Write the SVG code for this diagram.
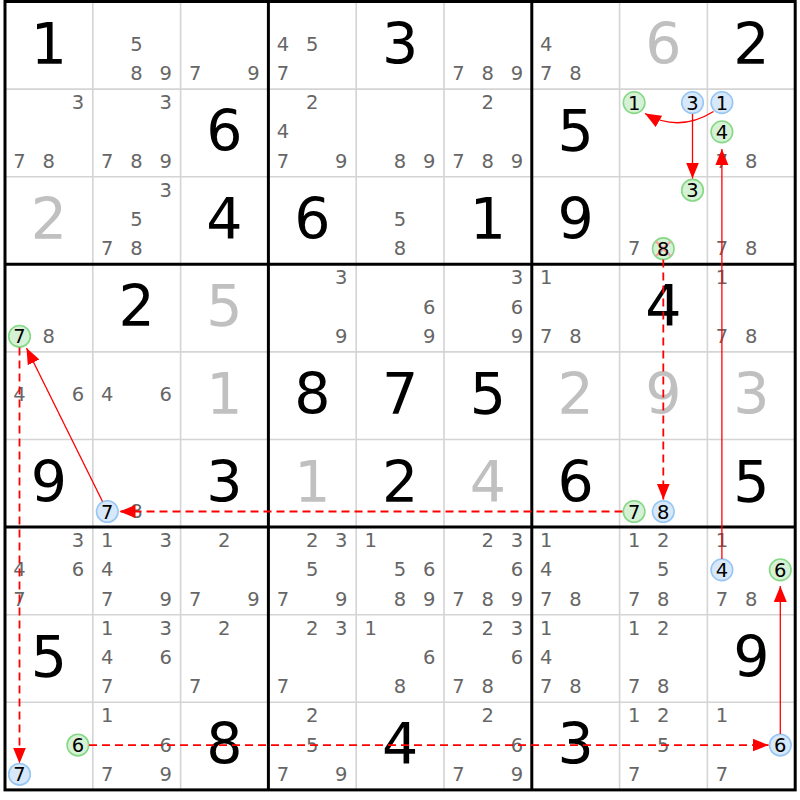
<svg xmlns="http://www.w3.org/2000/svg" width="800" height="800" viewBox="0 0 800 800">
<style>
text{font-family:"DejaVu Sans","Verdana",sans-serif;text-anchor:middle}
.g{font-size:57px;fill:#000}
.s{font-size:57px;fill:#c0c0c0}
.c{font-size:19.5px;fill:#666}
.ct{font-size:19.5px;fill:#000}
.cg{fill:#d6f2d6;stroke:#86d886;stroke-width:1.6}
.cb{fill:#d6e8fa;stroke:#98c6f2;stroke-width:1.6}
.thin{stroke:#d4d4d4;stroke-width:1.6}
.thick{stroke:#000;stroke-width:3}
.sol{stroke:#ff0000;stroke-width:1.3;fill:none}
.dsh{stroke:#ff0000;stroke-width:1.8;fill:none;stroke-dasharray:8 5}
</style>
<defs>
<marker id="ah" markerUnits="userSpaceOnUse" markerWidth="17" markerHeight="14" refX="16" refY="6.5" orient="auto">
<path d="M0,0 L16,6.5 L0,13 z" fill="#ff0000"/>
</marker>
</defs>
<rect x="0" y="0" width="800" height="800" fill="#fff"/>
<g id="grid">
<g class="thin">
<line x1="92.8" y1="1.5" x2="92.8" y2="789.9"/><line x1="180.6" y1="1.5" x2="180.6" y2="789.9"/>
<line x1="356.2" y1="1.5" x2="356.2" y2="789.9"/><line x1="444" y1="1.5" x2="444" y2="789.9"/>
<line x1="619.6" y1="1.5" x2="619.6" y2="789.9"/><line x1="707.4" y1="1.5" x2="707.4" y2="789.9"/>
<line x1="5" y1="89.1" x2="795.2" y2="89.1"/><line x1="5" y1="176.7" x2="795.2" y2="176.7"/>
<line x1="5" y1="351.9" x2="795.2" y2="351.9"/><line x1="5" y1="439.5" x2="795.2" y2="439.5"/>
<line x1="5" y1="614.7" x2="795.2" y2="614.7"/><line x1="5" y1="702.3" x2="795.2" y2="702.3"/>
</g>
<g class="thick">
<line x1="268.4" y1="1.5" x2="268.4" y2="789.9"/><line x1="531.8" y1="1.5" x2="531.8" y2="789.9"/>
<line x1="5" y1="264.3" x2="795.2" y2="264.3"/><line x1="5" y1="527.1" x2="795.2" y2="527.1"/>
<rect x="5" y="1.5" width="790.2" height="788.4" fill="none"/>
</g>
</g>
<g id="digits">
<text class="g" x="48.9" y="63.5">1</text>
<text class="g" x="400.1" y="63.5">3</text>
<text class="s" x="663.5" y="63.5">6</text>
<text class="g" x="751.3" y="63.5">2</text>
<text class="g" x="224.5" y="151.1">6</text>
<text class="g" x="575.7" y="151.1">5</text>
<text class="s" x="48.9" y="238.7">2</text>
<text class="g" x="224.5" y="238.7">4</text>
<text class="g" x="312.3" y="238.7">6</text>
<text class="g" x="487.9" y="238.7">1</text>
<text class="g" x="575.7" y="238.7">9</text>
<text class="g" x="136.7" y="326.3">2</text>
<text class="s" x="224.5" y="326.3">5</text>
<text class="g" x="663.5" y="326.3">4</text>
<text class="s" x="224.5" y="413.9">1</text>
<text class="g" x="312.3" y="413.9">8</text>
<text class="g" x="400.1" y="413.9">7</text>
<text class="g" x="487.9" y="413.9">5</text>
<text class="s" x="575.7" y="413.9">2</text>
<text class="s" x="663.5" y="413.9">9</text>
<text class="s" x="751.3" y="413.9">3</text>
<text class="g" x="48.9" y="501.5">9</text>
<text class="g" x="224.5" y="501.5">3</text>
<text class="s" x="312.3" y="501.5">1</text>
<text class="g" x="400.1" y="501.5">2</text>
<text class="s" x="487.9" y="501.5">4</text>
<text class="g" x="575.7" y="501.5">6</text>
<text class="g" x="751.3" y="501.5">5</text>
<text class="g" x="48.9" y="676.7">5</text>
<text class="g" x="751.3" y="676.7">9</text>
<text class="g" x="224.5" y="764.3">8</text>
<text class="g" x="400.1" y="764.3">4</text>
<text class="g" x="575.7" y="764.3">3</text>
</g>
<g id="candidates" class="c">
<g id="r0c1"><text x="136.5" y="50.75">5</text><text x="136.5" y="80">8</text><text x="165.7" y="80">9</text></g>
<g id="r0c2"><text x="195.1" y="80">7</text><text x="253.5" y="80">9</text></g>
<g id="r0c3"><text x="282.9" y="50.75">4</text><text x="312.1" y="50.75">5</text><text x="282.9" y="80">7</text></g>
<g id="r0c5"><text x="458.5" y="80">7</text><text x="487.7" y="80">8</text><text x="516.9" y="80">9</text></g>
<g id="r0c6"><text x="546.3" y="50.75">4</text><text x="546.3" y="80">7</text><text x="575.5" y="80">8</text></g>
<g id="r1c0"><text x="77.9" y="109.1">3</text><text x="19.5" y="167.6">7</text><text x="48.7" y="167.6">8</text></g>
<g id="r1c1"><text x="165.7" y="109.1">3</text><text x="107.3" y="167.6">7</text><text x="136.5" y="167.6">8</text><text x="165.7" y="167.6">9</text></g>
<g id="r1c3"><text x="312.1" y="109.1">2</text><text x="282.9" y="138.35">4</text><text x="282.9" y="167.6">7</text><text x="341.3" y="167.6">9</text></g>
<g id="r1c4"><text x="399.9" y="167.6">8</text><text x="429.1" y="167.6">9</text></g>
<g id="r1c5"><text x="487.7" y="109.1">2</text><text x="458.5" y="167.6">7</text><text x="487.7" y="167.6">8</text><text x="516.9" y="167.6">9</text></g>
<g id="r1c7"><circle class="cg" cx="634.1" cy="102.6" r="10.8"/><text class="ct" x="634.1" y="109.6">1</text><circle class="cb" cx="692.5" cy="102.6" r="10.8"/><text class="ct" x="692.5" y="109.6">3</text></g>
<g id="r1c8"><circle class="cb" cx="721.9" cy="102.6" r="10.8"/><text class="ct" x="721.9" y="109.6">1</text><circle class="cg" cx="721.9" cy="131.85" r="10.8"/><text class="ct" x="721.9" y="138.85">4</text><text x="721.9" y="167.6">7</text><text x="751.1" y="167.6">8</text></g>
<g id="r2c1"><text x="165.7" y="196.7">3</text><text x="136.5" y="225.95">5</text><text x="107.3" y="255.2">7</text><text x="136.5" y="255.2">8</text></g>
<g id="r2c4"><text x="399.9" y="225.95">5</text><text x="399.9" y="255.2">8</text></g>
<g id="r2c7"><circle class="cg" cx="692.5" cy="190.2" r="10.8"/><text class="ct" x="692.5" y="197.2">3</text><text x="634.1" y="255.2">7</text><circle class="cg" cx="663.3" cy="248.7" r="10.8"/><path d="M656,241.4 L670.6,256 M670.6,241.4 L656,256" stroke="#f4a4a4" stroke-width="2.2"/><text class="ct" x="663.3" y="255.7">8</text></g>
<g id="r2c8"><text x="721.9" y="255.2">7</text><text x="751.1" y="255.2">8</text></g>
<g id="r3c0"><circle class="cg" cx="19.5" cy="336.3" r="10.8"/><text class="ct" x="19.5" y="343.3">7</text><text x="48.7" y="342.8">8</text></g>
<g id="r3c3"><text x="341.3" y="284.3">3</text><text x="341.3" y="342.8">9</text></g>
<g id="r3c4"><text x="429.1" y="313.55">6</text><text x="429.1" y="342.8">9</text></g>
<g id="r3c5"><text x="516.9" y="284.3">3</text><text x="516.9" y="313.55">6</text><text x="516.9" y="342.8">9</text></g>
<g id="r3c6"><text x="546.3" y="284.3">1</text><text x="546.3" y="342.8">7</text><text x="575.5" y="342.8">8</text></g>
<g id="r3c8"><text x="721.9" y="284.3">1</text><text x="721.9" y="342.8">7</text><text x="751.1" y="342.8">8</text></g>
<g id="r4c0"><text x="19.5" y="401.15">4</text><text x="77.9" y="401.15">6</text></g>
<g id="r4c1"><text x="107.3" y="401.15">4</text><text x="165.7" y="401.15">6</text></g>
<g id="r5c1"><circle class="cb" cx="107.3" cy="511.5" r="10.8"/><text class="ct" x="107.3" y="518.5">7</text><text x="136.5" y="518">8</text></g>
<g id="r5c7"><circle class="cg" cx="634.1" cy="511.5" r="10.8"/><text class="ct" x="634.1" y="518.5">7</text><circle class="cb" cx="663.3" cy="511.5" r="10.8"/><text class="ct" x="663.3" y="518.5">8</text></g>
<g id="r6c0"><text x="77.9" y="547.1">3</text><text x="19.5" y="576.35">4</text><text x="77.9" y="576.35">6</text><text x="19.5" y="605.6">7</text></g>
<g id="r6c1"><text x="107.3" y="547.1">1</text><text x="165.7" y="547.1">3</text><text x="107.3" y="576.35">4</text><text x="107.3" y="605.6">7</text><text x="165.7" y="605.6">9</text></g>
<g id="r6c2"><text x="224.3" y="547.1">2</text><text x="195.1" y="605.6">7</text><text x="253.5" y="605.6">9</text></g>
<g id="r6c3"><text x="312.1" y="547.1">2</text><text x="341.3" y="547.1">3</text><text x="312.1" y="576.35">5</text><text x="282.9" y="605.6">7</text><text x="341.3" y="605.6">9</text></g>
<g id="r6c4"><text x="370.7" y="547.1">1</text><text x="399.9" y="576.35">5</text><text x="429.1" y="576.35">6</text><text x="399.9" y="605.6">8</text><text x="429.1" y="605.6">9</text></g>
<g id="r6c5"><text x="487.7" y="547.1">2</text><text x="516.9" y="547.1">3</text><text x="516.9" y="576.35">6</text><text x="458.5" y="605.6">7</text><text x="487.7" y="605.6">8</text><text x="516.9" y="605.6">9</text></g>
<g id="r6c6"><text x="546.3" y="547.1">1</text><text x="546.3" y="576.35">4</text><text x="546.3" y="605.6">7</text><text x="575.5" y="605.6">8</text></g>
<g id="r6c7"><text x="634.1" y="547.1">1</text><text x="663.3" y="547.1">2</text><text x="663.3" y="576.35">5</text><text x="634.1" y="605.6">7</text><text x="663.3" y="605.6">8</text></g>
<g id="r6c8"><text x="721.9" y="547.1">1</text><circle class="cb" cx="721.9" cy="569.85" r="10.8"/><text class="ct" x="721.9" y="576.85">4</text><circle class="cg" cx="780.3" cy="569.85" r="10.8"/><text class="ct" x="780.3" y="576.85">6</text><text x="721.9" y="605.6">7</text><text x="751.1" y="605.6">8</text></g>
<g id="r7c1"><text x="107.3" y="634.7">1</text><text x="165.7" y="634.7">3</text><text x="107.3" y="663.95">4</text><text x="165.7" y="663.95">6</text><text x="107.3" y="693.2">7</text></g>
<g id="r7c2"><text x="224.3" y="634.7">2</text><text x="195.1" y="693.2">7</text></g>
<g id="r7c3"><text x="312.1" y="634.7">2</text><text x="341.3" y="634.7">3</text><text x="282.9" y="693.2">7</text></g>
<g id="r7c4"><text x="370.7" y="634.7">1</text><text x="429.1" y="663.95">6</text><text x="399.9" y="693.2">8</text></g>
<g id="r7c5"><text x="487.7" y="634.7">2</text><text x="516.9" y="634.7">3</text><text x="516.9" y="663.95">6</text><text x="458.5" y="693.2">7</text><text x="487.7" y="693.2">8</text></g>
<g id="r7c6"><text x="546.3" y="634.7">1</text><text x="546.3" y="663.95">4</text><text x="546.3" y="693.2">7</text><text x="575.5" y="693.2">8</text></g>
<g id="r7c7"><text x="634.1" y="634.7">1</text><text x="663.3" y="634.7">2</text><text x="634.1" y="693.2">7</text><text x="663.3" y="693.2">8</text></g>
<g id="r8c0"><circle class="cg" cx="77.9" cy="745.05" r="10.8"/><text class="ct" x="77.9" y="752.05">6</text><circle class="cb" cx="19.5" cy="774.3" r="10.8"/><text class="ct" x="19.5" y="781.3">7</text></g>
<g id="r8c1"><text x="107.3" y="722.3">1</text><text x="165.7" y="751.55">6</text><text x="107.3" y="780.8">7</text><text x="165.7" y="780.8">9</text></g>
<g id="r8c3"><text x="312.1" y="722.3">2</text><text x="312.1" y="751.55">5</text><text x="282.9" y="780.8">7</text><text x="341.3" y="780.8">9</text></g>
<g id="r8c5"><text x="487.7" y="722.3">2</text><text x="516.9" y="751.55">6</text><text x="458.5" y="780.8">7</text><text x="516.9" y="780.8">9</text></g>
<g id="r8c7"><text x="634.1" y="722.3">1</text><text x="663.3" y="722.3">2</text><text x="663.3" y="751.55">5</text><text x="634.1" y="780.8">7</text></g>
<g id="r8c8"><text x="721.9" y="722.3">1</text><circle class="cb" cx="780.3" cy="745.05" r="10.8"/><text class="ct" x="780.3" y="752.05">6</text><text x="721.9" y="780.8">7</text></g>
</g>
<g id="connectors">
<path class="sol" d="M713.5,111.5 Q679,133 645,113.5" marker-end="url(#ah)"/>
<path class="sol" d="M692.5,114 L692.5,178.5" marker-end="url(#ah)"/>
<path class="sol" d="M721.9,559 L721.9,149" marker-end="url(#ah)"/>
<path class="sol" d="M780.3,734 L780.3,586" marker-end="url(#ah)"/>
<path class="sol" d="M102.5,501.5 L26.5,348" marker-end="url(#ah)"/>
<path class="dsh" d="M89,745.05 L768.5,745.05" marker-end="url(#ah)"/>
<path class="dsh" d="M19.5,347.5 L19.5,763.5" marker-end="url(#ah)"/>
<path class="dsh" d="M622.5,511.5 L119.5,511.5" marker-end="url(#ah)"/>
<path class="dsh" d="M663.3,259.5 L663.3,499.5" marker-end="url(#ah)"/>
</g>
</svg>
